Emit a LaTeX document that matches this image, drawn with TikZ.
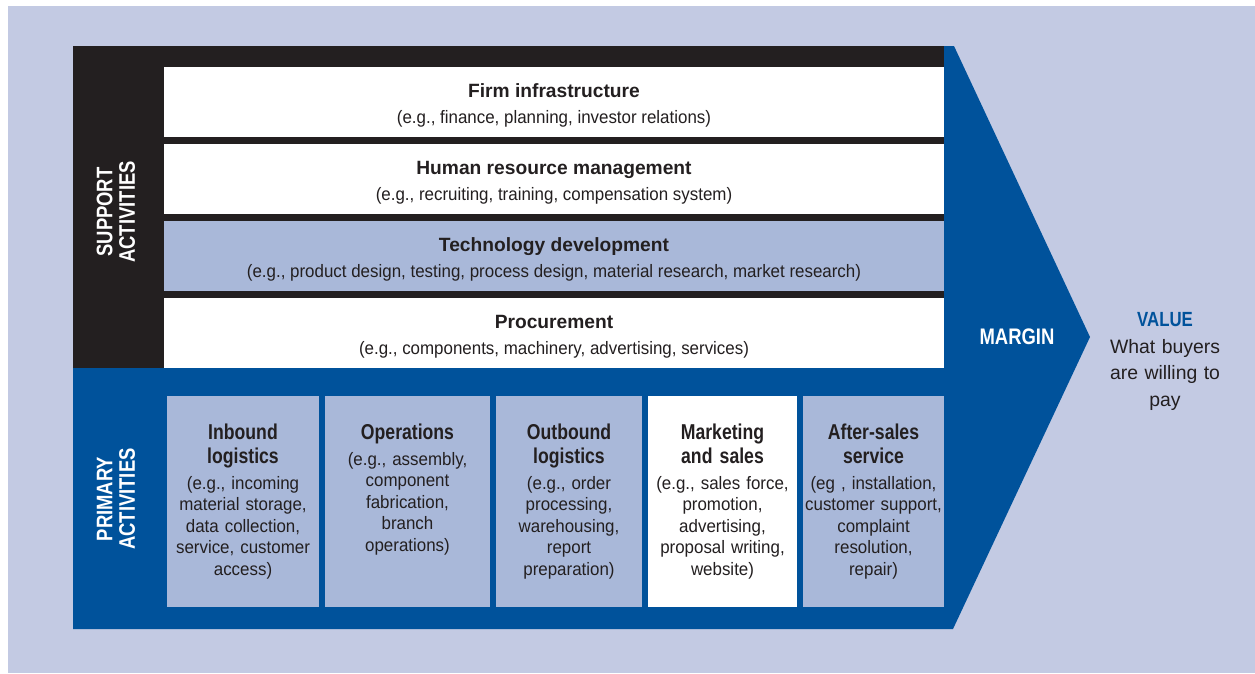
\documentclass[tikz,border=0pt]{standalone}
\usepackage{fontspec}
\setmainfont{Liberation Sans}
\newfontfamily\condfont[FakeStretch=0.82]{Liberation Sans}
\newfontfamily\bodyfont[FakeStretch=0.94]{Liberation Sans}
\definecolor{bgc}{HTML}{C3CAE3}
\definecolor{lightfill}{HTML}{A9B8D9}
\definecolor{vcblue}{HTML}{00529B}
\definecolor{vcblack}{HTML}{231F20}
\begin{document}
\begin{tikzpicture}[x=1pt,y=-1pt,
  supbox/.style={draw=none, minimum width=780pt, minimum height=70pt, inner sep=0pt},
  pribox/.style={draw=none, minimum height=211pt, inner sep=0pt, fill=lightfill},
  shead/.style={anchor=base, inner sep=0pt, text=vcblack, font=\fontsize{19.2}{23}\selectfont\bfseries},
  sbody/.style={anchor=base, inner sep=0pt, text=vcblack, font=\bodyfont\fontsize{18}{21}\selectfont},
  phead/.style={anchor=base, inner sep=0pt, text=vcblack, text width=150pt, align=center, font=\condfont\fontsize{21.5}{24}\selectfont\bfseries},
  pbody/.style={anchor=base, inner sep=0pt, text=vcblack, text width=150pt, align=center, font=\bodyfont\fontsize{18}{21.5}\selectfont},
  sidelabel/.style={rotate=90, inner sep=0pt, text=white, align=center, font=\condfont\fontsize{22.5}{22.5}\selectfont\bfseries}
]
\useasboundingbox (0,0) rectangle (1255,673);
\fill[bgc] (8,6) rectangle (1255,673);
\fill[vcblue] (73,46) -- (954,46) -- (1090,337) -- (953,629) -- (73,629) -- cycle;
\fill[vcblack] (73,46) rectangle (944,368);

% support activities
\node[supbox, fill=white] (firm) at (554,102) {};
\node[supbox, fill=white] (hrm) at (554,179) {};
\node[supbox, fill=lightfill] (tech) at (554,256) {};
\node[supbox, fill=white] (proc) at (554,333) {};

\node[shead] (firmh) at (554,97) {Firm infrastructure};
\node[sbody] (firmb) at (554,123) {(e.g., finance, planning, investor relations)};
\node[shead] (hrmh) at (554,174) {Human resource management};
\node[sbody] (hrmb) at (554,200) {(e.g., recruiting, training, compensation system)};
\node[shead] (techh) at (554,251) {Technology development};
\node[sbody] (techb) at (554,277) {(e.g., product design, testing, process design, material research, market research)};
\node[shead] (proch) at (554,328) {Procurement};
\node[sbody] (procb) at (554,354) {(e.g., components, machinery, advertising, services)};

% primary activities
\node[pribox, minimum width=152pt] (inb) at (243,501.5) {};
\node[pribox, minimum width=165pt] (ops) at (407.5,501.5) {};
\node[pribox, minimum width=146pt] (outb) at (569,501.5) {};
\node[pribox, minimum width=149pt, fill=white] (mkt) at (722.5,501.5) {};
\node[pribox, minimum width=141pt] (aft) at (873.5,501.5) {};

\node[phead] (inbh) at (243,439) {Inbound\\logistics};
\node[pbody] (inbb) at (243,489) {(e.g., incoming\\material storage,\\data collection,\\service, customer\\access)};
\node[phead] (opsh) at (407.5,439) {Operations};
\node[pbody] (opsb) at (407.5,465) {(e.g., assembly,\\component\\fabrication,\\branch\\operations)};
\node[phead] (outbh) at (569,439) {Outbound\\logistics};
\node[pbody] (outbb) at (569,489) {(e.g., order\\processing,\\warehousing,\\report\\preparation)};
\node[phead] (mkth) at (722.5,439) {Marketing\\and sales};
\node[pbody] (mktb) at (722.5,489) {(e.g., sales force,\\promotion,\\advertising,\\proposal writing,\\website)};
\node[phead] (afth) at (873.5,439) {After-sales\\service};
\node[pbody] (aftb) at (873.5,489) {(eg , installation,\\customer support,\\complaint\\resolution,\\repair)};

% side labels
\node[sidelabel] (suplab) at (116,212) {SUPPORT\\ACTIVITIES};
\node[sidelabel] (prilab) at (116,499) {PRIMARY\\ACTIVITIES};

% margin and value
\node[inner sep=0pt, text=white, font=\condfont\fontsize{22.5}{24}\selectfont\bfseries] (margin) at (1017,337) {MARGIN};
\node[anchor=base, inner sep=0pt, text=vcblue, font=\condfont\fontsize{20.5}{24}\selectfont\bfseries] (valueh) at (1165,326) {VALUE};
\node[anchor=base, inner sep=0pt, text=vcblack, text width=150pt, align=center, font=\fontsize{19.4}{26.5}\selectfont] (valueb) at (1165,353) {What buyers\\are willing to\\pay};
\end{tikzpicture}
\end{document}
